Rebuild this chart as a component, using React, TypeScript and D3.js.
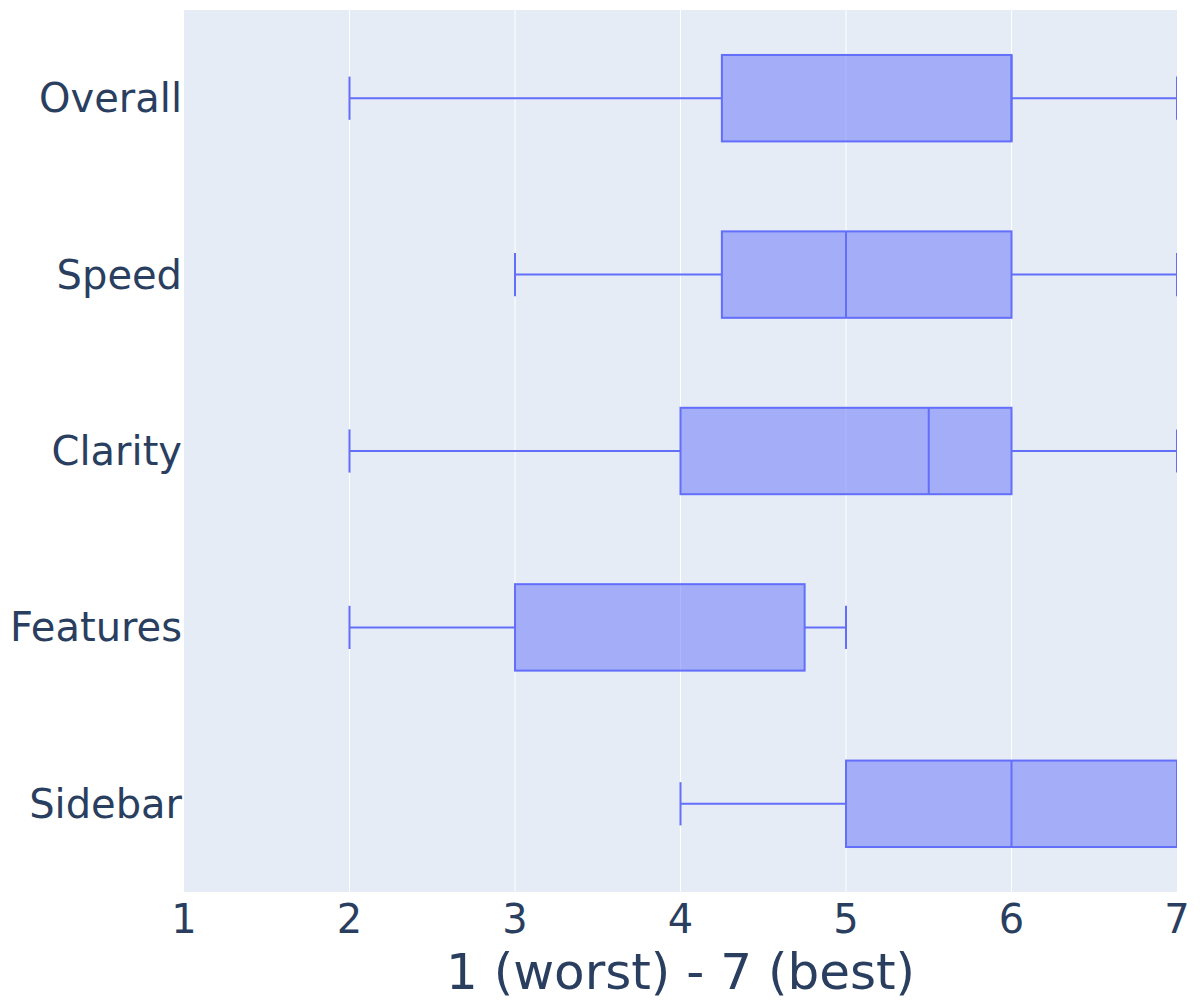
import React from "react";
import * as d3 from "d3";

const categories = ["Overall", "Speed", "Clarity", "Features", "Sidebar"];
const lowerWhisker = [2, 3, 2, 2, 4];
const q1 = [4.25, 4.25, 4, 3, 5];
const median = [6, 5, 5.5, 3, 6];
const q3 = [6, 6, 6, 4.75, 7];
const upperWhisker = [7, 7, 7, 5, 7];
const xTicks = [1, 2, 3, 4, 5, 6, 7];
const xTitle = "1 (worst) - 7 (best)";

const W = 1200;
const H = 1000;
const M = { left: 184, right: 23, top: 10, bottom: 108 };
const FONT = "'DejaVu Sans', Verdana, sans-serif";
const TEXT = "#2a3f5f";
const LINE = "#636efa";

export default function App() {
  const x = d3.scaleLinear().domain([1, 7]).range([M.left, W - M.right]);
  const y = d3.scaleBand().domain(categories).range([M.top, H - M.bottom]).paddingInner(0).paddingOuter(0);
  const bw = y.bandwidth() * 0.49;
  const pw = W - M.left - M.right;
  const ph = H - M.top - M.bottom;

  return (
    <svg width={W} height={H} style={{ position: "absolute", left: 0, top: 0, fontFamily: FONT }}>
      <defs>
        <clipPath id="plot">
          <rect x={M.left} y={M.top} width={pw} height={ph} />
        </clipPath>
      </defs>
      <rect x={0} y={0} width={W} height={H} fill="#fff" />
      <rect x={M.left} y={M.top} width={pw} height={ph} fill="#E5ECF6" />
      {xTicks.slice(1, -1).map((t) => (
        <line key={t} x1={x(t)} x2={x(t)} y1={M.top} y2={M.top + ph} stroke="#fff" strokeWidth={1} />
      ))}
      <g clipPath="url(#plot)">
        {categories.map((c, i) => {
          const cy = (y(c) as number) + y.bandwidth() / 2;
          const top = cy - bw / 2;
          const capH = bw / 2;
          return (
            <g key={c}>
              <line x1={x(lowerWhisker[i])} x2={x(q1[i])} y1={cy} y2={cy} stroke={LINE} strokeWidth={2} />
              <line x1={x(q3[i])} x2={x(upperWhisker[i])} y1={cy} y2={cy} stroke={LINE} strokeWidth={2} />
              <line x1={x(lowerWhisker[i])} x2={x(lowerWhisker[i])} y1={cy - capH / 2} y2={cy + capH / 2} stroke={LINE} strokeWidth={2} />
              <line x1={x(upperWhisker[i])} x2={x(upperWhisker[i])} y1={cy - capH / 2} y2={cy + capH / 2} stroke={LINE} strokeWidth={2} />
              <rect
                x={x(q1[i])}
                y={top}
                width={x(q3[i]) - x(q1[i])}
                height={bw}
                fill="rgba(99,110,250,0.5)"
                stroke={LINE}
                strokeWidth={2}
              />
              <line x1={x(median[i])} x2={x(median[i])} y1={top} y2={top + bw} stroke={LINE} strokeWidth={2} />
            </g>
          );
        })}
      </g>
      {categories.map((c) => (
        <text
          key={c}
          x={M.left - 2}
          y={(y(c) as number) + y.bandwidth() / 2}
          dy="0.35em"
          textAnchor="end"
          fontSize={40}
          fill={TEXT}
        >
          {c}
        </text>
      ))}
      {xTicks.map((t) => (
        <text key={t} x={x(t)} y={933} textAnchor="middle" fontSize={40} fill={TEXT}>
          {t}
        </text>
      ))}
      <text x={M.left + pw / 2} y={989} textAnchor="middle" fontSize={50} fill={TEXT}>
        {xTitle}
      </text>
    </svg>
  );
}
